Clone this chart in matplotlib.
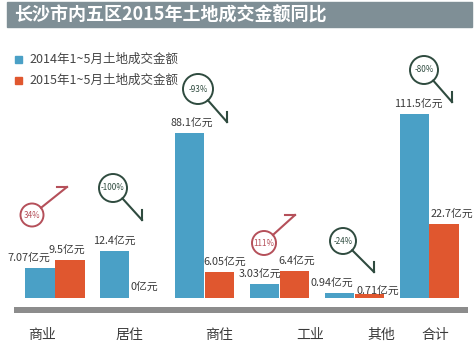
import numpy as np
import matplotlib
matplotlib.use("Agg")
import matplotlib.pyplot as plt
from matplotlib.patches import Rectangle, Circle
from matplotlib.transforms import Affine2D

plt.rcParams["font.family"] = ["Noto Sans CJK SC", "DejaVu Sans"]

# ── DATA ──────────────────────────────────────────────────────────────────────
title = "长沙市内五区2015年土地成交金额同比"
categories = ["商业", "居住", "商住", "工业", "其他", "合计"]
series_names = ["2014年1~5月土地成交金额", "2015年1~5月土地成交金额"]
amount_2014 = [7.07, 12.4, 88.1, 3.03, 0.94, 111.5]
amount_2015 = [9.5, 0, 6.05, 6.4, 0.71, 22.7]

# ── STYLE / LAYOUT ────────────────────────────────────────────────────────────
W, H, DPI = 477, 348, 100
BLUE, RED = "#4aa0c6", "#e0572f"
POS_C, NEG_C = "#b5505a", "#2f4b3f"
TXT = "#3a3a3a"
BAR_W, OFF = 0.39, 0.2

label_shift = [-0.17, 0.0, 0.19, 0.41, 0.36, 0.08]          # category label x-shift
dx14 = [-11.5, -1, 2, -4, -7, 4]                              # value-label offsets (px)
dx15 = [-3.5, 0, 5, 2, 9, 8]
dy14 = [10, 10, 10, 10, 11, 10]
dy15 = [10, 11, 10, 10, 4, 10]
# magnifier: circle centre (px), radius, handle tip (px)
mags = [((32, 215), 11.5, (67, 187)),
        ((113, 188), 14, (142, 220)),
        ((198, 89), 15, (227, 122)),
        ((264, 243), 12, (295, 215)),
        ((343, 241), 13, (374, 272)),
        ((424, 70), 14, (452, 102))]

fig = plt.figure(figsize=(W / DPI, H / DPI), dpi=DPI)
px = Affine2D().scale(1 / DPI).scale(1, -1).translate(0, H / DPI) + fig.dpi_scale_trans
PT = 72 / DPI  # points per pixel

# title banner
fig.patches.append(Rectangle((7, 2), 465, 25, transform=px, color="#7f8f96", zorder=0))
fig.text(14 / W, 1 - 15 / H, title, color="white", fontsize=13, fontweight="bold",
         va="center", ha="left")

# legend
for i, (name, c) in enumerate(zip(series_names, [BLUE, RED])):
    y = 59 + 21 * i
    fig.patches.append(Rectangle((15, y - 3.5), 7, 7, transform=px, color=c))
    fig.text(29 / W, 1 - y / H, name, color="#444444", fontsize=9, va="center")

# axes: baseline at y=297.7 px, x from 14 to 468 px
base, top_px = 297.7, 60
ax = fig.add_axes([14 / W, 1 - base / H, 454 / W, (base - top_px) / H])
ax.patch.set_alpha(0)
C = 20.0
fwd = lambda v: np.log1p(np.maximum(v, 0) / C)
inv = lambda y: C * np.expm1(y)
ax.set_yscale("function", functions=(fwd, inv))
ytop = inv(fwd(111.5) * (base - top_px) / (base - 114))
ax.set_ylim(0, ytop)
ax.set_xlim(-0.548, 5.52)

x = np.arange(len(categories))
ax.bar(x - OFF, amount_2014, BAR_W, color=BLUE)
ax.bar(x + OFF, amount_2015, BAR_W, color=RED)

for i in range(len(categories)):
    for xv, v, dx, dy in [(x[i] - OFF, amount_2014[i], dx14[i], dy14[i]),
                          (x[i] + OFF, amount_2015[i], dx15[i], dy15[i])]:
        ax.annotate(f"{v:g}亿元", xy=(xv, v), xytext=(dx * PT, dy * PT), textcoords="offset points",
                    ha="center", va="center", fontsize=7.8, color=TXT, annotation_clip=False)
    ax.annotate(categories[i], xy=(x[i] + label_shift[i], 0), xycoords=("data", "axes fraction"),
                xytext=(0, -37.3 * PT), textcoords="offset points",
                ha="center", va="center", fontsize=10, color=TXT, annotation_clip=False)

for s in ["top", "left", "right"]:
    ax.spines[s].set_visible(False)
ax.spines["bottom"].set_position(("outward", 12.3 * PT))
ax.spines["bottom"].set_linewidth(6 * PT)
ax.spines["bottom"].set_color("#8c8c8c")
ax.spines["bottom"].set_capstyle("butt")
ax.set_xticks([])
ax.set_yticks([])
ax.minorticks_off()

# magnifier icons with year-on-year change
for i, ((cx, cy), r, (tx, ty)) in enumerate(mags):
    old, new = amount_2014[i], amount_2015[i]
    pct = (new - old) / old * 100
    col = POS_C if pct > 0 else NEG_C
    fig.patches.append(Circle((cx, cy), r, transform=px, fill=False, ec=col, lw=1.4))
    d = np.array([tx - cx, ty - cy], float)
    d /= np.hypot(*d)
    sx, sy = cx + d[0] * r, cy + d[1] * r
    fig.lines.append(plt.Line2D([sx, tx], [sy, ty], transform=px, color=col, lw=1.5))
    if pct > 0:
        fig.lines.append(plt.Line2D([tx - 10, tx], [ty, ty], transform=px, color=col, lw=1.5))
    else:
        fig.lines.append(plt.Line2D([tx, tx], [ty - 10, ty], transform=px, color=col, lw=1.5))
    fig.text(cx / W, 1 - cy / H, f"{pct:.0f}%", fontsize=5.8, color=col,
             ha="center", va="center")

fig.savefig("out.png", dpi=DPI)
